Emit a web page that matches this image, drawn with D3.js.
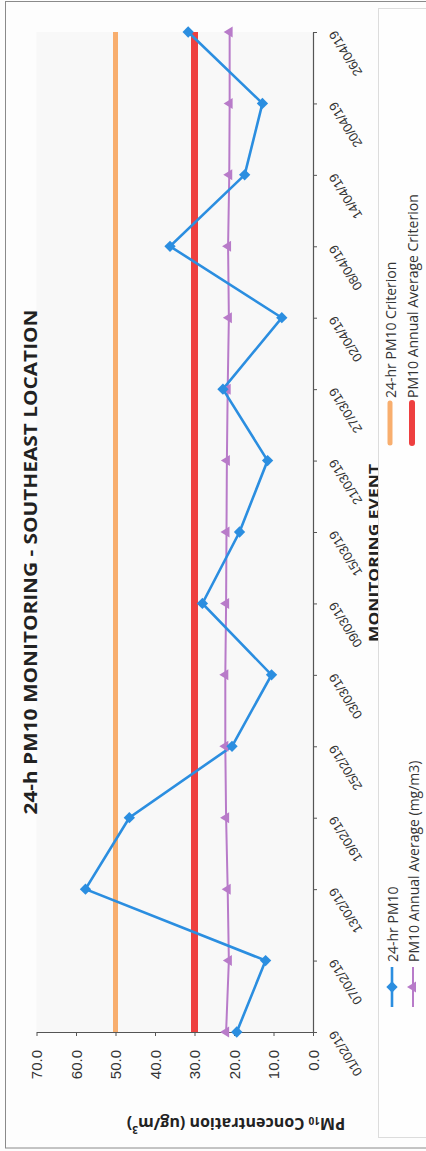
<!DOCTYPE html>
<html><head><meta charset="utf-8">
<script src="https://cdn.jsdelivr.net/npm/d3@7/dist/d3.min.js"></script>
<style>
html,body{margin:0;padding:0;background:#fdfdfd;}
svg{display:block;font-family:"Open Sans","Liberation Sans",sans-serif;}
</style></head><body>
<svg id="c" width="426" height="1151"></svg>
<script>
const dates = ["01/02/19","07/02/19","13/02/19","19/02/19","25/02/19","03/03/19","09/03/19","15/03/19","21/03/19","27/03/19","02/04/19","08/04/19","14/04/19","20/04/19","26/04/19"];
const pm10 = [19.3, 12.0, 57.6, 46.5, 20.5, 10.5, 28.0, 18.6, 11.5, 22.8, 7.9, 36.2, 17.3, 12.8, 31.6];
const annualAvg = [22.0, 21.3, 21.6, 22.0, 22.2, 22.2, 22.0, 21.9, 21.8, 21.6, 21.3, 21.5, 21.2, 21.1, 21.1];
const crit24 = [50,50,50,50,50,50,50,50,50,50,50,50,50,50,50];
const critAnnual = [30,30,30,30,30,30,30,30,30,30,30,30,30,30,30];
const valueTicks = [0,10,20,30,40,50,60,70];
const title = "24-h PM10 MONITORING - SOUTHEAST LOCATION";
const xTitle = "MONITORING EVENT";
const legendItems = [
  {label:"24-hr PM10", color:"#2b8ee0", marker:"diamond"},
  {label:"PM10 Annual Average (mg/m3)", color:"#b87bc9", marker:"triangle"},
  {label:"24-hr PM10 Criterion", color:"#f8ae6e", marker:null},
  {label:"PM10 Annual Average Criterion", color:"#ee3f3f", marker:null}
];

const svg = d3.select("#c");
// outer border
svg.append("rect").attr("x",5.5).attr("y",1.5).attr("width",430).attr("height",1146.5)
  .attr("fill","#fdfdfd").attr("stroke","#8a8a8a").attr("stroke-width",1);

// scales (chart is rotated: values run right-to-left, dates bottom-to-top)
const vx = d3.scaleLinear().domain([0,70]).range([313,36.5]);
const dy = d3.scalePoint().domain(dates).range([1032,32]).padding(0);

// plot area
svg.append("rect").attr("x",vx(70)).attr("y",dy(dates[dates.length-1]))
  .attr("width",vx(0)-vx(70)).attr("height",dy(dates[0])-dy(dates[dates.length-1]))
  .attr("fill","#f8f8f8");

// value axis (bottom)
const gV = svg.append("g").attr("transform","translate(0,1032)")
  .call(d3.axisBottom(vx).tickValues(valueTicks).tickSize(4).tickSizeOuter(0).tickFormat(d=>d3.format(".1f")(d)));
gV.select(".domain").attr("stroke","#555").attr("stroke-width",1.2);
gV.selectAll(".tick line").attr("stroke","#555");
gV.selectAll(".tick text")
  .attr("transform","translate(0,18) rotate(-90)")
  .attr("x",0).attr("y",0).attr("dy","0.35em")
  .attr("text-anchor","end")
  .attr("font-size",15).attr("fill","#333");

// date axis (right)
const gD = svg.append("g").attr("transform","translate(313,0)")
  .call(d3.axisRight(dy).tickSize(4).tickSizeOuter(0));
gD.select(".domain").attr("stroke","#555").attr("stroke-width",1.2);
gD.selectAll(".tick line").attr("stroke","#555");
gD.selectAll(".tick text")
  .attr("x",0).attr("y",0).attr("dy",0)
  .attr("transform","translate(23,-3) rotate(-122)")
  .attr("text-anchor","end")
  .attr("font-size",13).attr("fill","#333");

// series lines
const line = (vals)=> d3.line().x((d,i)=>vx(vals[i])).y((d,i)=>dy(dates[i]))(dates);
svg.append("path").attr("d",line(crit24)).attr("fill","none").attr("stroke","#f8ae6e").attr("stroke-width",5);
svg.append("path").attr("d",line(critAnnual)).attr("fill","none").attr("stroke","#ee3f3f").attr("stroke-width",7);
svg.append("path").attr("d",line(annualAvg)).attr("fill","none").attr("stroke","#b87bc9").attr("stroke-width",2);
svg.append("path").attr("d",line(pm10)).attr("fill","none").attr("stroke","#2b8ee0").attr("stroke-width",2.6);

const tri = "M-5,0 L4,-5.5 L4,5.5 Z";
svg.selectAll(".tri").data(annualAvg).enter().append("path")
  .attr("d",tri).attr("transform",(d,i)=>`translate(${vx(d)-1},${dy(dates[i])})`)
  .attr("fill","#b87bc9");
svg.selectAll(".dia").data(pm10).enter().append("rect")
  .attr("x",-4).attr("y",-4).attr("width",8).attr("height",8)
  .attr("transform",(d,i)=>`translate(${vx(d)},${dy(dates[i])}) rotate(45)`)
  .attr("fill","#2b8ee0");

// title
svg.append("text").attr("transform","translate(30,562) rotate(-90)")
  .attr("text-anchor","middle").attr("dominant-baseline","central")
  .attr("font-size",18).attr("font-weight","bold").attr("fill","#222")
  .attr("textLength",505).attr("lengthAdjust","spacingAndGlyphs")
  .text(title);

// x-axis (date) title
svg.append("text").attr("transform","translate(373,553) rotate(-90)")
  .attr("text-anchor","middle").attr("dominant-baseline","central")
  .attr("font-size",14).attr("font-weight","bold").attr("fill","#222")
  .attr("textLength",178).attr("lengthAdjust","spacingAndGlyphs")
  .text(xTitle);

// value-axis title (upside down)
const yt = svg.append("text").attr("transform","translate(236,1124) rotate(180)")
  .attr("text-anchor","middle").attr("dominant-baseline","central")
  .attr("font-size",16).attr("font-weight","bold").attr("fill","#222");
yt.append("tspan").text("PM");
yt.append("tspan").attr("font-size",10).attr("dy",3).text("10");
yt.append("tspan").attr("dy",-3).text(" Concentration (ug/m");
yt.append("tspan").attr("font-size",10).attr("dy",-6).text("3");
yt.append("tspan").attr("dy",6).text(")");

// legend
svg.append("rect").attr("x",378.5).attr("y",8.5).attr("width",60).attr("height",1129)
  .attr("fill","#fefefe").attr("stroke","#dcdcdc");
const legPos = [
  {x:392, y0:1007, y1:967},
  {x:413, y0:1007, y1:967},
  {x:390, y0:443, y1:403},
  {x:412, y0:443, y1:403}
];
legendItems.forEach((it,i)=>{
  const p = legPos[i];
  const g = svg.append("g");
  const w = it.marker ? (i===0?2.6:2) : (i===2?5:6);
  g.append("line").attr("x1",p.x).attr("x2",p.x).attr("y1",p.y0).attr("y2",p.y1)
    .attr("stroke",it.color).attr("stroke-width",w).attr("stroke-linecap", it.marker?"butt":"round");
  const cy = (p.y0+p.y1)/2;
  if(it.marker==="diamond"){
    g.append("rect").attr("x",-4).attr("y",-4).attr("width",8).attr("height",8)
      .attr("transform",`translate(${p.x},${cy}) rotate(45)`).attr("fill",it.color);
  } else if(it.marker==="triangle"){
    g.append("path").attr("d",tri).attr("transform",`translate(${p.x-1},${cy})`).attr("fill",it.color);
  }
  g.append("text").attr("transform",`translate(${p.x},${p.y1-5}) rotate(-90)`)
    .attr("dominant-baseline","central").attr("font-size",14).attr("fill","#333")
    .text(it.label);
});
</script>
</body></html>
